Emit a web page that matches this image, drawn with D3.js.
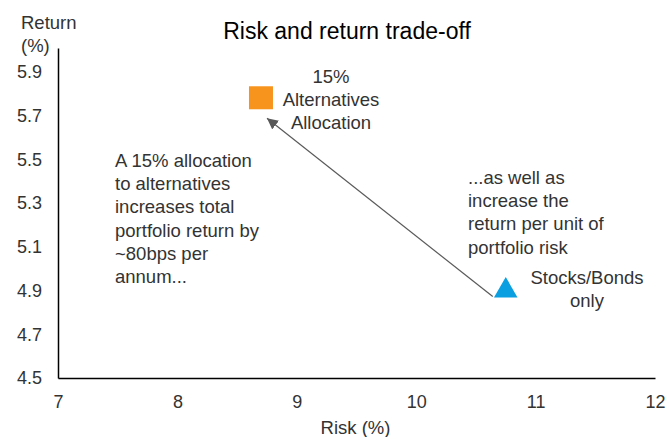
<!DOCTYPE html>
<html lang="en">
<head>
  <meta charset="UTF-8">
  <script src="https://d3js.org/d3.v7.min.js"></script>
  <title>Risk and return trade-off</title>
  <style>
  body { margin: 0; background: #fff; }
  svg { font-family: "Liberation Sans", Arial, sans-serif; }
  .tick text { font-size: 18px; fill: #333; }
  .note { font-size: 18.5px; fill: #333; }
  </style>
</head>
<body>
<svg id="chart" width="669" height="437"></svg>
<script>
  // data
  const portfolios = ["15% Alternatives Allocation", "Stocks/Bonds only"];
  const risk = [8.7, 10.75];
  const ret = [5.78, 4.9];
  const colors = ["#F7941D", "#0A9FE0"];

  const xTicks = [7, 8, 9, 10, 11, 12];
  const yTicks = [4.5, 4.7, 4.9, 5.1, 5.3, 5.5, 5.7, 5.9];

  const svg = d3.select("svg#chart");
  const margin = {top: 48, right: 14, bottom: 59, left: 58};
  const width = +svg.attr("width");
  const height = +svg.attr("height");

  const x = d3.scaleLinear().domain([7, 12]).range([margin.left, width - margin.right]);
  const y = d3.scaleLinear().domain([4.5, 6.01]).range([height - margin.bottom, margin.top]);

  // axes, no tick marks
  const xAxis = svg.append("g")
      .attr("transform", `translate(0,${y(4.5)})`)
      .call(d3.axisBottom(x).tickValues(xTicks).tickSize(0).tickPadding(17).tickFormat(d3.format("d")));
  const yAxis = svg.append("g")
      .attr("transform", `translate(${x(7)},0)`)
      .call(d3.axisLeft(y).tickValues(yTicks).tickSize(0).tickPadding(16).tickFormat(d3.format(".1f")));
  [xAxis, yAxis].forEach(g => {
    g.select(".domain").attr("stroke", "#000").attr("stroke-width", 1.5);
    g.selectAll(".tick text").attr("font-family", null).attr("font-size", null);
  });

  // axis titles
  svg.append("text").attr("class", "note")
      .attr("x", (x(7) + x(12)) / 2 - 1).attr("y", 434)
      .attr("text-anchor", "middle").text("Risk (%)");
  svg.append("text").attr("class", "note").attr("x", 21).attr("y", 29).text("Return");
  svg.append("text").attr("class", "note").attr("x", 21).attr("y", 52).text("(%)");

  // title
  svg.append("text")
      .attr("x", 347).attr("y", 39)
      .attr("text-anchor", "middle")
      .style("font-size", "23px").attr("fill", "#000")
      .text("Risk and return trade-off");

  // arrow from stocks/bonds towards alternatives
  svg.append("defs").append("marker")
      .attr("id", "head").attr("viewBox", "0 0 10 10")
      .attr("refX", 10).attr("refY", 5)
      .attr("markerWidth", 11).attr("markerHeight", 11)
      .attr("markerUnits", "userSpaceOnUse")
      .attr("orient", "auto")
    .append("path").attr("d", "M0,0 L10,5 L0,10 z").attr("fill", "#595959");

  svg.append("line")
      .attr("x1", x(risk[1]) - 13).attr("y1", y(ret[1]) + 6)
      .attr("x2", x(risk[0]) + 6).attr("y2", y(ret[0]) + 20)
      .attr("stroke", "#595959").attr("stroke-width", 1.2)
      .attr("marker-end", "url(#head)");

  // points
  svg.append("rect")
      .attr("x", x(risk[0]) - 12).attr("y", y(ret[0]) - 12)
      .attr("width", 24).attr("height", 23)
      .attr("fill", colors[0]);
  svg.append("path")
      .attr("transform", `translate(${x(risk[1])},${y(ret[1])})`)
      .attr("d", d3.symbol(d3.symbolTriangle, 240)())
      .attr("fill", colors[1]);

  // labels
  function block(lines, px, py, anchor) {
    const t = svg.append("text").attr("class", "note")
        .attr("text-anchor", anchor);
    lines.forEach((l, i) => t.append("tspan").attr("x", px).attr("y", py + i * 23.2).text(l));
  }
  block(["15%", "Alternatives", "Allocation"], 331, 83, "middle");
  block(["Stocks/Bonds", "only"], 587, 284, "middle");
  block(["A 15% allocation", "to alternatives", "increases total", "portfolio return by",
         "~80bps per", "annum..."], 115, 167, "start");
  block(["...as well as", "increase the", "return per unit of", "portfolio risk"], 468, 184, "start");
</script>
</body>
</html>
